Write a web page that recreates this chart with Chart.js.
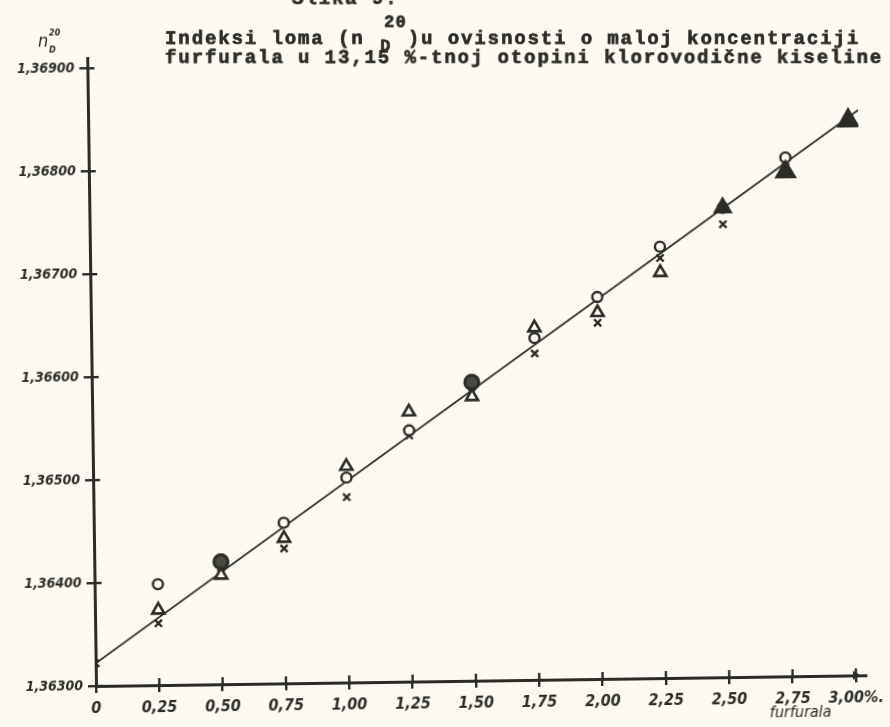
<!DOCTYPE html>
<html>
<head>
<meta charset="utf-8">
<script src="https://cdn.jsdelivr.net/npm/chart.js@4.4.1/dist/chart.umd.min.js"></script>
<style>
  html, body { margin: 0; padding: 0; background: #fbf9f1; overflow: hidden; }
  #wrap { width: 890px; height: 727px; position: relative; }
  /* the sheet sits slightly askew on the scanner bed */
  #c { position: absolute; left: 0; top: 0; transform: rotate(-0.8deg); transform-origin: 96px 686px; }
</style>
</head>
<body>
<div id="wrap"><canvas id="c" width="890" height="727"></canvas></div>
<script>
// furfural concentration, % (x)
const concentration = [0, 0.25, 0.50, 0.75, 1.00, 1.25, 1.50, 1.75, 2.00, 2.25, 2.50, 2.75, 3.00];

// refractive index n_D^20, three measurement series
const seriesCircle   = [null, 1.36398, 1.36419, 1.36456, 1.36499, 1.36544, 1.36590, 1.36632, 1.36671, 1.36719, 1.36756, 1.36804, 1.36840];
const seriesTriangle = [null, 1.36373, 1.36406, 1.36441, 1.36510, 1.36562, 1.36576, 1.36642, 1.36656, 1.36694, 1.36756, 1.36790, 1.36839];
const seriesCross    = [1.36322, 1.36360, 1.36408, 1.36431, 1.36480, 1.36539, 1.36580, 1.36617, 1.36646, 1.36708, 1.36740, 1.36795, 1.36840];

// fitted straight line (start and end)
const fitX = [0, 3.04];
const fitY = [1.36322, 1.36849];

// axis ticks
const xTickValues = [0, 0.25, 0.50, 0.75, 1.00, 1.25, 1.50, 1.75, 2.00, 2.25, 2.50, 2.75, 3.00];
const xTickLabels = ['0', '0,25', '0,50', '0,75', '1,00', '1,25', '1,50', '1,75', '2,00', '2,25', '2,50', '2,75', '3,00%.'];
const yTickValues = [1.363, 1.364, 1.365, 1.366, 1.367, 1.368, 1.369];
const yTickLabels = ['1,36300', '1,36400', '1,36500', '1,36600', '1,36700', '1,36800', '1,36900'];

const INK = '#2c2c26';
const PAPER = '#fbf9f1';
const HAND = '"DejaVu Sans Condensed", "DejaVu Sans", sans-serif';
const TYPE = '"Liberation Mono", "DejaVu Sans Mono", monospace';
const TILT = 0.8 * Math.PI / 180;

const pts = (ys) => concentration.map((x, i) => ({ x: x, y: ys[i] })).filter(p => p.y !== null);

// emphasised marks: ringed circles and solid triangles
const circleRadius = concentration.map(x => (x === 0.5 || x === 1.5) ? 7 : 5);
const circleFill = concentration.map(x => (x === 0.5 || x === 1.5) ? '#4a4a43' : PAPER);
const circleBorder = concentration.map(x => (x === 0.5 || x === 1.5) ? 3 : 2.4);
const triRadius = concentration.map(x => x === 3.0 ? 11 : x === 2.75 ? 10.5 : x === 2.5 ? 9 : 7);
const triFill = concentration.map(x => x >= 2.5 ? INK : PAPER);

function drawSpaced(ctx, text, x, y, pitch) {
  for (let i = 0; i < text.length; i++) {
    ctx.strokeText(text[i], x + i * pitch, y);
    ctx.fillText(text[i], x + i * pitch, y);
  }
}

const decorations = {
  id: 'decorations',
  afterDraw(chart) {
    const ctx = chart.ctx;
    const xs = chart.scales.x, ys = chart.scales.y;
    const a = chart.chartArea;
    ctx.save();
    ctx.strokeStyle = INK;
    ctx.fillStyle = INK;
    // tick marks crossing into the plot
    ctx.lineWidth = 2.4;
    yTickValues.forEach(v => {
      const py = ys.getPixelForValue(v);
      ctx.beginPath(); ctx.moveTo(a.left, py); ctx.lineTo(a.left + 7, py); ctx.stroke();
    });
    xTickValues.forEach(v => {
      if (v === 0) return;
      const px = xs.getPixelForValue(v);
      ctx.beginPath(); ctx.moveTo(px, a.bottom); ctx.lineTo(px, a.bottom - 7); ctx.stroke();
    });
    // arrow tip on the x axis
    const ax = xs.getPixelForValue(3.0);
    ctx.beginPath();
    ctx.moveTo(ax + 5, a.bottom);
    ctx.lineTo(ax - 3, a.bottom - 4.5);
    ctx.lineTo(ax - 3, a.bottom + 4.5);
    ctx.closePath(); ctx.fill();

    // axis names
    ctx.textBaseline = 'alphabetic';
    ctx.textAlign = 'left';
    ctx.font = 'italic 18px ' + HAND;
    ctx.fillText('n', 47, 46);
    ctx.font = 'italic bold 9px ' + HAND;
    ctx.fillText('20', 58, 35);
    ctx.fillText('D', 58, 52);
    ctx.font = 'italic 16px ' + HAND;
    ctx.textAlign = 'center';
    ctx.fillText('furfurala', xs.getPixelForValue(2.78), 727);

    // typed caption, set square to the page
    ctx.translate(509, 50.6);
    ctx.rotate(TILT);
    ctx.translate(-500, -45);
    ctx.textAlign = 'left';
    ctx.lineWidth = 0.7;
    ctx.font = 'bold 19px ' + TYPE;
    const pitch = 13.3;
    drawSpaced(ctx, 'Slika 9.', 292, 4, pitch);
    drawSpaced(ctx, 'Indeksi loma (n', 165, 44, pitch);
    ctx.font = 'bold 17px ' + TYPE;
    drawSpaced(ctx, '20', 384, 27, 11.5);
    drawSpaced(ctx, 'D', 380, 51, 11.5);
    ctx.font = 'bold 19px ' + TYPE;
    const partB = ')u ovisnosti o maloj koncentraciji';
    drawSpaced(ctx, partB, 860 - partB.length * pitch, 44, pitch);
    drawSpaced(ctx, 'furfurala u 13,15 %-tnoj otopini klorovodične kiseline', 165, 63, pitch);
    ctx.restore();
  }
};

new Chart(document.getElementById('c'), {
  type: 'scatter',
  data: {
    datasets: [
      {
        label: 'triangle',
        data: pts(seriesTriangle),
        pointStyle: 'triangle',
        pointRadius: triRadius.slice(1),
        pointBackgroundColor: triFill.slice(1),
        pointBorderColor: INK,
        pointBorderWidth: 2.6
      },
      {
        label: 'circle',
        data: pts(seriesCircle),
        pointStyle: 'circle',
        pointRadius: circleRadius.slice(1),
        pointBackgroundColor: circleFill.slice(1),
        pointBorderColor: INK,
        pointBorderWidth: circleBorder.slice(1)
      },
      {
        label: 'cross',
        data: pts(seriesCross),
        pointStyle: 'crossRot',
        pointRadius: 5,
        pointBorderColor: INK,
        pointBorderWidth: 2.4
      },
      {
        type: 'line',
        label: 'fit',
        data: fitX.map((x, i) => ({ x: x, y: fitY[i] })),
        borderColor: INK,
        borderWidth: 1.7,
        pointRadius: 0,
        fill: false
      }
    ]
  },
  options: {
    responsive: false,
    animation: false,
    events: [],
    layout: { padding: { top: 58, right: 23, left: 0, bottom: 0 } },
    plugins: { legend: { display: false }, tooltip: { enabled: false } },
    scales: {
      x: {
        type: 'linear',
        min: 0,
        max: 3.04,
        afterBuildTicks: s => { s.ticks = xTickValues.map(v => ({ value: v })); },
        afterFit: s => { s.height = 41; },
        border: { display: true, color: INK, width: 3 },
        grid: { display: true, drawOnChartArea: false, drawTicks: true, tickLength: 7, color: INK, lineWidth: 2.4 },
        ticks: {
          autoSkip: false,
          maxRotation: 0,
          padding: 6,
          color: INK,
          font: { family: HAND, size: 16, style: 'italic', weight: 'bold' },
          callback: (v, i) => xTickLabels[i]
        }
      },
      y: {
        type: 'linear',
        min: 1.363,
        max: 1.3691,
        afterBuildTicks: s => { s.ticks = yTickValues.map(v => ({ value: v })); },
        afterFit: s => { s.width = 96; },
        border: { display: true, color: INK, width: 3 },
        grid: { display: true, drawOnChartArea: false, drawTicks: true, tickLength: 8, color: INK, lineWidth: 2.4 },
        ticks: {
          autoSkip: false,
          padding: 5,
          color: INK,
          font: { family: HAND, size: 14, style: 'italic', weight: 'bold' },
          callback: (v, i) => yTickLabels[i]
        }
      }
    }
  },
  plugins: [decorations]
});
</script>
</body>
</html>
